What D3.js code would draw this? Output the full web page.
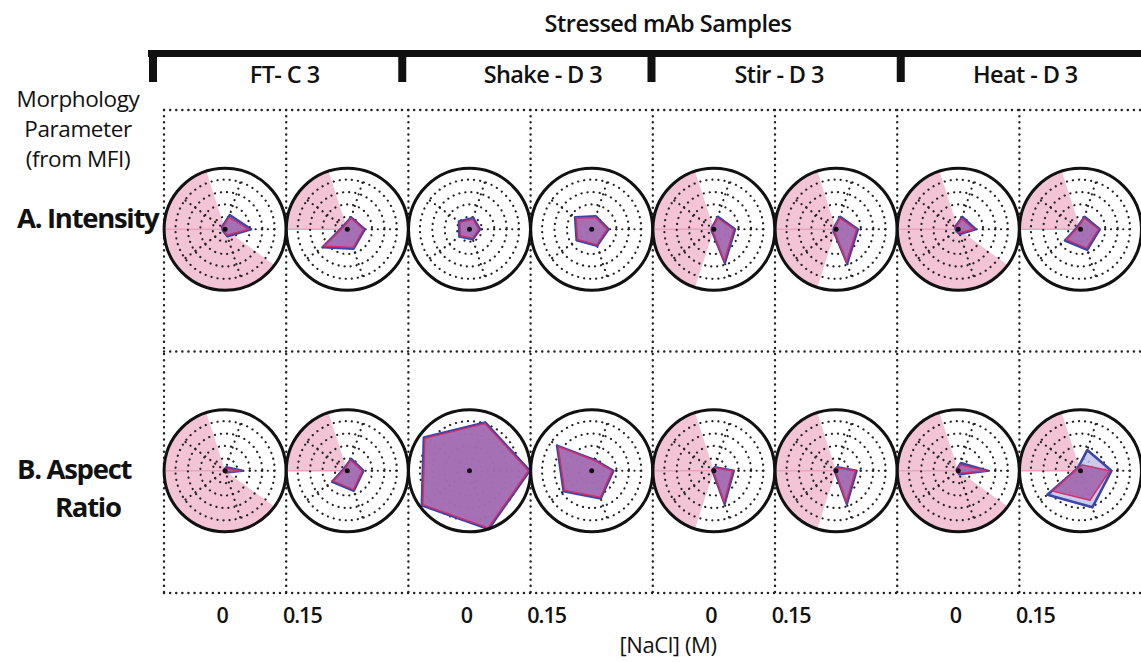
<!DOCTYPE html>
<html>
<head>
<meta charset="utf-8">
<script src="https://cdnjs.cloudflare.com/ajax/libs/d3/7.8.5/d3.min.js"></script>
<style>
  body { margin: 0; background: #fff; }
  svg text { font-family: "Open Sans", sans-serif; fill: #111; }
</style>
</head>
<body>
<div id="chart"></div>
<script>
// Create svg wrapper
var svgWidth = 1141;
var svgHeight = 662;

// categories
var groups = ["FT- C 3", "Shake - D 3", "Stir - D 3", "Heat - D 3"];
var naclLevels = ["0", "0.15"];
var params = ["A. Intensity", "B. Aspect Ratio"];
var axisCount = 5;

// radar values (ring units, 0-5); axis order: right, then counter-clockwise
// one row per column: FT 0, FT 0.15, Shake 0, Shake 0.15, Stir 0, Stir 0.15, Heat 0, Heat 0.15
var intensityBlue = [
  [2.1, 1.2, 0.3, 0.2, 0.6],
  [1.4, 1.0, 0.4, 2.45, 1.65],
  [0.85, 0.95, 1.05, 1.0, 0.85],
  [1.35, 1.1, 1.65, 1.5, 1.4],
  [1.7, 1.05, 0.2, 0.2, 2.85],
  [1.75, 1.05, 0.2, 0.25, 2.9],
  [1.4, 1.05, 0.3, 0.2, 0.4],
  [1.55, 1.05, 0.3, 1.55, 1.75]
];
var intensityRed = [
  [1.9, 1.0, 0.25, 0.15, 0.5],
  [1.3, 0.95, 0.35, 2.3, 1.55],
  [0.75, 0.85, 0.95, 0.9, 0.75],
  [1.25, 1.0, 1.55, 1.4, 1.3],
  [1.6, 0.95, 0.15, 0.15, 2.7],
  [1.65, 0.95, 0.15, 0.2, 2.75],
  [1.25, 0.9, 0.25, 0.15, 0.3],
  [1.45, 0.95, 0.25, 1.4, 1.6]
];
var aspectBlue = [
  [1.4, 0.3, 0.1, 0.1, 0.15],
  [1.3, 1.0, 0.3, 1.5, 1.7],
  [4.85, 4.1, 4.55, 4.75, 4.95],
  [1.75, 0.9, 3.45, 2.8, 2.35],
  [1.6, 0.3, 0.15, 0.1, 2.8],
  [1.65, 0.3, 0.15, 0.1, 2.8],
  [2.35, 0.65, 0.15, 0.1, 0.3],
  [2.5, 1.75, 0.3, 3.3, 3.1]
];
var aspectRed = [
  [1.2, 0.2, 0.05, 0.05, 0.1],
  [1.2, 0.9, 0.25, 1.4, 1.6],
  [4.75, 4.0, 4.45, 4.65, 4.85],
  [1.65, 0.85, 3.35, 2.7, 2.25],
  [1.5, 0.25, 0.1, 0.05, 2.65],
  [1.55, 0.25, 0.1, 0.05, 2.65],
  [2.2, 0.5, 0.1, 0.05, 0.2],
  [2.35, 0.5, 0.3, 2.8, 2.5]
];

// pink background sector (degrees, counter-clockwise from the right axis), null = none
var pinkFrom = [108, 108, null, null, 108, 108, 108, 108];
var pinkTo   = [324, 180, null, null, 252, 252, 324, 180];

var ringLevels = [1, 2, 3, 4];

var svg = d3.select("#chart")
  .append("svg")
  .attr("width", svgWidth)
  .attr("height", svgHeight);

// column keys
var columns = [];
groups.forEach(function(g) {
  naclLevels.forEach(function(n) { columns.push(g + "|" + n); });
});

var xBand = d3.scaleBand().domain(columns).range([164, 1141.6]);
var yBand = d3.scaleBand().domain(params).range([110, 593]);
var groupBand = d3.scaleBand().domain(groups).range([153, 1150]);
// small horizontal nudges for the group titles (layout only)
var groupLabelNudge = [7, 16, 3, 0];

var rScale = d3.scaleLinear().domain([0, 5]).range([0, 62]);
var angle = d3.scaleLinear().domain([0, axisCount]).range([Math.PI / 2, Math.PI / 2 - 2 * Math.PI]);
var circleR = 61;

// header
svg.append("text")
  .attr("x", 668).attr("y", 32)
  .attr("text-anchor", "middle")
  .style("font-size", "23.5px").style("font-weight", 600).style("letter-spacing", "-0.5px")
  .text("Stressed mAb Samples");

svg.append("rect")
  .attr("x", 148).attr("y", 50)
  .attr("width", svgWidth - 148).attr("height", 7)
  .attr("fill", "#111");

svg.selectAll(".tick-bar")
  .data(groups)
  .enter()
  .append("rect")
  .attr("x", d => groupBand(d) - 4)
  .attr("y", 50)
  .attr("width", 8)
  .attr("height", 32)
  .attr("fill", "#111");

svg.selectAll(".group-label")
  .data(groups)
  .enter()
  .append("text")
  .attr("x", (d, i) => groupBand(d) + groupBand.bandwidth() / 2 + groupLabelNudge[i])
  .attr("y", 83)
  .attr("text-anchor", "middle")
  .style("font-size", "23.5px").style("font-weight", 600).style("letter-spacing", "-0.6px")
  .text(d => d);

// left labels
var leftLines = ["Morphology", "Parameter", "(from MFI)"];
svg.selectAll(".left-label")
  .data(leftLines)
  .enter()
  .append("text")
  .attr("x", 78)
  .attr("y", (d, i) => 107 + i * 30)
  .attr("text-anchor", "middle")
  .style("font-size", "22.5px").style("letter-spacing", "-0.4px")
  .text(d => d);

var rowLabel = svg.append("g")
  .style("font-size", "27.5px").style("font-weight", 700).style("letter-spacing", "-1.3px");
rowLabel.append("text")
  .attr("x", 17).attr("y", yBand(params[0]) + yBand.bandwidth() / 2 - 3)
  .text(params[0]);
rowLabel.append("text")
  .attr("x", 17).attr("y", yBand(params[1]) + yBand.bandwidth() / 2 + 7)
  .text("B. Aspect");
rowLabel.append("text")
  .attr("x", 55).attr("y", yBand(params[1]) + yBand.bandwidth() / 2 + 45)
  .text("Ratio");

// dotted grid
var grid = svg.append("g")
  .attr("stroke", "#222")
  .attr("stroke-width", 2.4)
  .attr("stroke-linecap", "round")
  .attr("stroke-dasharray", "0.1,6")
  .attr("fill", "none");

var hLines = [110, yBand(params[1]), 593];
grid.selectAll(".hline")
  .data(hLines)
  .enter()
  .append("line")
  .attr("x1", 164).attr("x2", svgWidth)
  .attr("y1", d => d).attr("y2", d => d);

grid.selectAll(".vline")
  .data(columns)
  .enter()
  .append("line")
  .attr("x1", d => xBand(d)).attr("x2", d => xBand(d))
  .attr("y1", 110).attr("y2", 593);

// radar charts
var radarLine = d3.lineRadial()
  .angle((d, i) => angle(i))
  .radius(d => rScale(d))
  .curve(d3.curveLinearClosed);

var pinkArc = d3.arc().innerRadius(0).outerRadius(circleR);

var seriesByRow = [
  { blue: intensityBlue, red: intensityRed },
  { blue: aspectBlue, red: aspectRed }
];

params.forEach(function(p, ri) {
  columns.forEach(function(c, ci) {
    var cx = xBand(c) + xBand.bandwidth() / 2;
    var cy = yBand(p) + yBand.bandwidth() / 2 - 1.5;
    var g = svg.append("g").attr("transform", `translate(${cx}, ${cy})`);

    g.append("circle").attr("r", circleR).attr("fill", "#fff");

    if (pinkFrom[ci] !== null) {
      g.append("path")
        .attr("d", pinkArc({
          startAngle: (90 - pinkTo[ci]) * Math.PI / 180,
          endAngle: (90 - pinkFrom[ci]) * Math.PI / 180
        }))
        .attr("fill", "#f3c4d5");
      g.append("line")
        .attr("x1", 0).attr("y1", 0)
        .attr("x2", -circleR).attr("y2", 0)
        .attr("stroke", "#e9a3be").attr("stroke-width", 1.5);
    }

    // dotted rings and spokes
    g.selectAll(".ring")
      .data(ringLevels)
      .enter()
      .append("circle")
      .attr("r", d => rScale(d))
      .attr("fill", "none")
      .attr("stroke", "#222")
      .attr("stroke-width", 2.2)
      .attr("stroke-linecap", "round")
      .attr("stroke-dasharray", "0.1,6");

    g.selectAll(".spoke")
      .data(d3.range(axisCount))
      .enter()
      .append("line")
      .attr("x1", 0).attr("y1", 0)
      .attr("x2", d => Math.sin(angle(d)) * rScale(4.3))
      .attr("y2", d => -Math.cos(angle(d)) * rScale(4.3))
      .attr("stroke", "#222")
      .attr("stroke-width", 2.2)
      .attr("stroke-linecap", "round")
      .attr("stroke-dasharray", "0.1,6");

    var blue = seriesByRow[ri].blue[ci];
    var red = seriesByRow[ri].red[ci];

    g.append("path")
      .attr("d", radarLine(blue))
      .attr("fill", "#c4c2e8")
      .attr("fill-opacity", 0.85)
      .attr("stroke", "#3a46a8")
      .attr("stroke-width", 2.6)
      .attr("stroke-linejoin", "round");

    g.append("path")
      .attr("d", radarLine(red))
      .attr("fill", "#9d62aa")
      .attr("fill-opacity", 0.85)
      .attr("stroke", "#d42e6c")
      .attr("stroke-width", 1.4)
      .attr("stroke-linejoin", "round");

    g.append("circle").attr("r", 2.5).attr("fill", "#111");

    g.append("circle")
      .attr("r", circleR)
      .attr("fill", "none")
      .attr("stroke", "#111")
      .attr("stroke-width", 3);
  });
});

// bottom tick labels
svg.selectAll(".nacl-label")
  .data(columns)
  .enter()
  .append("text")
  .attr("x", d => xBand(d) + xBand.bandwidth() / 2 + (d.endsWith("|0.15") ? -45 : -3))
  .attr("y", 623)
  .attr("text-anchor", "middle")
  .style("font-size", "21.5px").style("font-weight", 600).style("letter-spacing", "-1px")
  .text(d => d.split("|")[1]);

svg.append("text")
  .attr("x", 668).attr("y", 653)
  .attr("text-anchor", "middle")
  .style("font-size", "22px").style("letter-spacing", "-0.4px")
  .text("[NaCl] (M)");
</script>
</body>
</html>
